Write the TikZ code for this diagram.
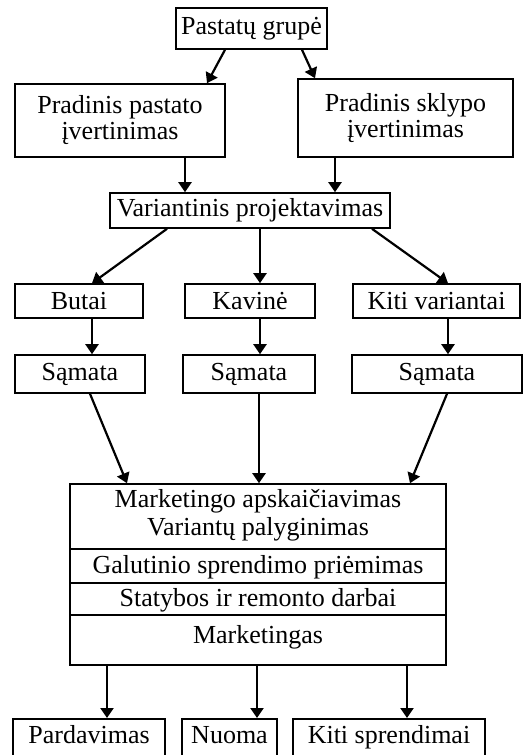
\documentclass[tikz,border=0pt]{standalone}
\usepackage{fontspec}
\setmainfont{Liberation Serif}
\usetikzlibrary{arrows.meta,calc}
\begin{document}
\begin{tikzpicture}[x=0.5pt,y=-0.5pt,
  box/.style={draw,line width=0.8pt,inner sep=0pt,align=center,font=\fontsize{13}{13}\selectfont},
  arr/.style={line width=1.1pt,-{Triangle[length=5pt,width=6.5pt]}},
  sep/.style={line width=1.1pt},
  txt/.style={inner sep=0pt,font=\fontsize{13}{14}\selectfont},
  bot/.style={box,minimum height=21pt,text height=12.5pt,text depth=8.5pt,anchor=north}]
\useasboundingbox (0,0) rectangle (527,755);
\node[box,minimum width=75.5pt,minimum height=20.5pt] (top) at (251.5,28.5) {Pastatų grupė};
\node[box,minimum width=105pt,minimum height=36.5pt] (pp) at (120,120.5) {Pradinis pastato\\įvertinimas};
\node[box,minimum width=107.5pt,minimum height=39pt] (ps) at (405.5,118) {Pradinis sklypo\\įvertinimas};
\node[box,minimum width=140pt,minimum height=17.5pt] (var) at (250,210.5) {Variantinis projektavimas};
\node[box,minimum width=64pt,minimum height=17pt] (butai) at (79,301) {Butai};
\node[box,minimum width=65pt,minimum height=17pt] (kavine) at (250,301) {Kavinė};
\node[box,minimum width=83.5pt,minimum height=17pt] (kiti) at (436.5,301) {Kiti variantai};
\node[box,minimum width=65pt,minimum height=19pt] (s1) at (80,374) {Sąmata};
\node[box,minimum width=66pt,minimum height=19pt] (s2) at (249,374) {Sąmata};
\node[box,minimum width=85pt,minimum height=19pt] (s3) at (437,374) {Sąmata};
\node[box,minimum width=188pt,minimum height=90.5pt] (big) at (258,574.5) {};
\node[txt] (m1) at (258,501) {Marketingo apskaičiavimas};
\node[txt] (m2) at (258,529) {Variantų palyginimas};
\node[txt] (m3) at (258,567) {Galutinio sprendimo priėmimas};
\node[txt] (m4) at (258,600) {Statybos ir remonto darbai};
\node[txt] (m5) at (258,637) {Marketingas};
\draw[sep] (big.west |- 0,549) -- (big.east |- 0,549);
\draw[sep] (big.west |- 0,583) -- (big.east |- 0,583);
\draw[sep] (big.west |- 0,615) -- (big.east |- 0,615);
\node[bot,minimum width=76pt] (b1) at (89,718) {Pardavimas};
\node[bot,minimum width=47.5pt] (b2) at (229.5,718) {Nuoma};
\node[bot,minimum width=96pt] (b3) at (389,718) {Kiti sprendimai};
% connectors
\draw[arr] ($(top.south)+(-26.5,0)$) -- ($(pp.north)+(87,0)$);
\draw[arr] ($(top.south)+(50.5,0)$) -- ($(ps.north)+(-90.5,0)$);
\draw[arr] ($(pp.south)+(65,0)$) -- ($(var.north)+(-65,0)$);
\draw[arr] ($(ps.south)+(-70.5,0)$) -- ($(var.north)+(85,0)$);
\draw[arr] ($(var.south)+(-83,0)$) -- ($(butai.north)+(13,0)$);
\draw[arr] ($(var.south)+(10,0)$) -- ($(kavine.north)+(10,0)$);
\draw[arr] ($(var.south)+(122,0)$) -- ($(kiti.north)+(11.5,0)$);
\draw[arr] ($(butai.south)+(13,0)$) -- ($(s1.north)+(12,0)$);
\draw[arr] ($(kavine.south)+(10,0)$) -- ($(s2.north)+(11,0)$);
\draw[arr] ($(kiti.south)+(11.5,0)$) -- ($(s3.north)+(11,0)$);
\draw[arr] ($(s1.south)+(10,0)$) -- ($(big.north)+(-131,0)$);
\draw[arr] ($(s2.south)+(10,0)$) -- ($(big.north)+(1,0)$);
\draw[arr] ($(s3.south)+(10,0)$) -- ($(big.north)+(152,0)$);
\draw[arr] ($(big.south)+(-151,0)$) -- ($(b1.north)+(18,0)$);
\draw[arr] ($(big.south)+(-1,0)$) -- ($(b2.north)+(27.5,0)$);
\draw[arr] ($(big.south)+(149,0)$) -- ($(b3.north)+(18,0)$);
\end{tikzpicture}
\end{document}
